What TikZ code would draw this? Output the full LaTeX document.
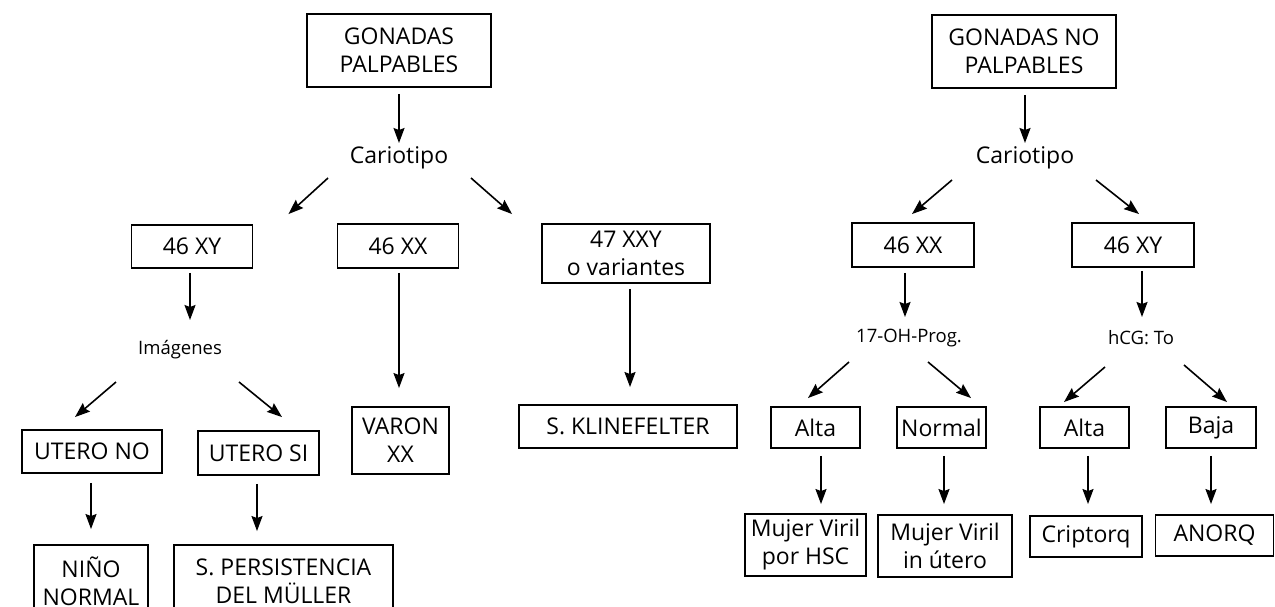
\documentclass[tikz,border=0pt]{standalone}
\usepackage{fontspec}
\setmainfont{Open Sans}
\usetikzlibrary{arrows.meta,calc}

\tikzset{
  box/.style={draw, line width=1.9pt, inner sep=0pt, align=center,
    font=\fontsize{23}{28}\selectfont},
  lbl/.style={inner sep=0pt, font=\fontsize{23}{28}\selectfont},
  small/.style={inner sep=0pt, font=\fontsize{18.5}{22}\selectfont},
  arr/.style={line width=1.6pt, -{Stealth[length=15pt,width=11pt,inset=2pt]}},
}

\begin{document}
\begin{tikzpicture}[x=1pt,y=-1pt]
\useasboundingbox (0,0) rectangle (1275,607);
\clip (0,0) rectangle (1275,607);

% ---- palpable gonads ----
\node[box, minimum width=184, minimum height=73] (g1) at (399,50.5) {GONADAS\\PALPABLES};
\node[lbl] (c1) at (399,158) {Cariotipo};
\node[box, minimum width=121, minimum height=43] (b46xy) at (192,246.5) {46 XY};
\node[box, minimum width=121, minimum height=44] (b46xx) at (398,246) {46 XX};
\node[box, minimum width=168, minimum height=59] (b47) at (626,253.5) {47 XXY\\o variantes};
\node[small] (img) at (180,350) {Imágenes};
\node[box, minimum width=140, minimum height=43] (uno) at (92,451.5) {UTERO NO};
\node[box, minimum width=121, minimum height=44] (usi) at (258.5,453) {UTERO SI};
\node[box, minimum width=97, minimum height=67] (varon) at (400.5,440.5) {VARON\\XX};
\node[box, minimum width=218, minimum height=43] (klin) at (628,426.5) {S. KLINEFELTER};
\node[box, minimum width=114, minimum height=72] (nino) at (91,581) {NIÑO\\NORMAL};
\node[box, minimum width=219, minimum height=72] (pers) at (283.5,581) {S. PERSISTENCIA\\DEL MÜLLER};

\draw[arr] ($(g1.south)+(0,6)$) -- ($(c1)+(0,-15)$);
\draw[arr] ($(c1)+(-71,20)$) -- ($(b46xy.north east)+(35,-10)$);
\draw[arr] ($(c1)+(72,20)$) -- ($(b47.north west)+(-29,-9)$);
\draw[arr] ($(b46xy.south)+(-2,4)$) -- ($(img)+(10,-30)$);
\draw[arr] ($(b46xx.south)+(1,4)$) -- ($(varon.north)+(-1.5,-18)$);
\draw[arr] ($(b47.south)+(4,5)$) -- ($(klin.north)+(2,-17)$);
\draw[arr] ($(img)+(-64,32)$) -- ($(uno.north)+(-17,-12)$);
\draw[arr] ($(img)+(59,32)$) -- ($(usi.north)+(23.5,-13)$);
\draw[arr] ($(uno.south)+(-1,9)$) -- ($(nino.north)+(0,-15)$);
\draw[arr] ($(usi.south)+(-1.5,8)$) -- ($(pers.north)+(-26.5,-13)$);

% ---- non-palpable gonads ----
\node[box, minimum width=184, minimum height=73] (g2) at (1024,51.5) {GONADAS NO\\PALPABLES};
\node[lbl] (c2) at (1025,158) {Cariotipo};
\node[box, minimum width=122, minimum height=44] (r46xx) at (913,245) {46 XX};
\node[box, minimum width=122, minimum height=44] (r46xy) at (1133,245) {46 XY};
\node[small] (oh) at (909,338) {17-OH-Prog.};
\node[small] (hcg) at (1141,338) {hCG: To};
\node[box, minimum width=89, minimum height=41] (alta1) at (815.5,427.5) {Alta};
\node[box, minimum width=89, minimum height=41] (normal) at (941.5,427.5) {Normal};
\node[box, minimum width=89, minimum height=41] (alta2) at (1084.5,427.5) {Alta};
\node[box, minimum width=90, minimum height=41] (baja) at (1211,427.5) {Baja};
\node[box, minimum width=121, minimum height=62] (hsc) at (805.5,545) {Mujer Viril\\por HSC};
\node[box, minimum width=134, minimum height=62] (utero) at (945,546) {Mujer Viril\\in útero};
\node[box, minimum width=112, minimum height=41] (cript) at (1086,536.5) {Criptorq};
\node[box, minimum width=118, minimum height=41] (anorq) at (1214.5,535.5) {ANORQ};

\draw[arr] ($(g2.south)+(1,6)$) -- ($(c2)+(0,-15)$);
\draw[arr] ($(c2)+(-73,22)$) -- ($(r46xx.north)+(-1,-8)$);
\draw[arr] ($(c2)+(71,22)$) -- ($(r46xy.north)+(6,-8)$);
\draw[arr] ($(r46xx.south)+(-8,5)$) -- ($(oh)+(-4,-21)$);
\draw[arr] ($(r46xy.south)+(9,3)$) -- ($(hcg)+(1,-21)$);
\draw[arr] ($(oh)+(-60,24)$) -- ($(alta1.north)+(-7.5,-8)$);
\draw[arr] ($(oh)+(19,24)$) -- ($(normal.north)+(29.5,-8)$);
\draw[arr] ($(hcg)+(-36,29)$) -- ($(alta2.north)+(-20.5,-4)$);
\draw[arr] ($(hcg)+(43,27)$) -- ($(baja.north)+(16,-4)$);
\draw[arr] ($(alta1.south)+(5.5,7)$) -- ($(hsc.north)+(15.5,-9)$);
\draw[arr] ($(normal.south)+(2.5,7)$) -- ($(utero.north)+(-1,-10)$);
\draw[arr] ($(alta2.south)+(3.5,7)$) -- ($(cript.north)+(2,-11)$);
\draw[arr] ($(baja.south)+(0,7)$) -- ($(anorq.north)+(-3.5,-10)$);
\end{tikzpicture}
\end{document}
